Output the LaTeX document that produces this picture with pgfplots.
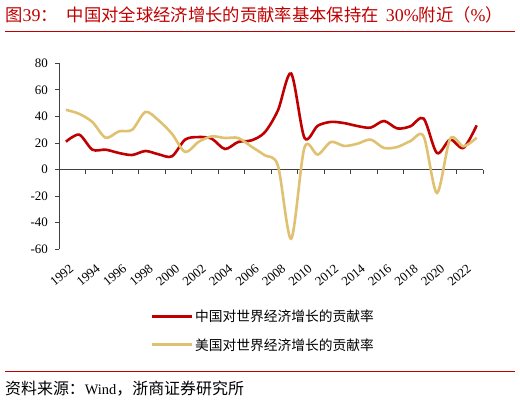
\documentclass[border=0pt]{standalone}
\usepackage{fontspec}
\setmainfont{Liberation Serif}
\newfontfamily\cjk{Noto Sans CJK SC}
\usepackage{pgfplots}
\pgfplotsset{compat=1.18}
\usepackage{pgfplotstable}

\definecolor{zsred}{RGB}{192,0,0}
\definecolor{zsgold}{RGB}{223,193,113}
\definecolor{axgray}{RGB}{64,64,64}

% contribution to world growth (%)
\pgfplotstableread{
year china us
1992 21.0 45.0
1993 26.3 42.0
1994 15.0 35.8
1995 15.0 24.0
1996 12.5 28.8
1997 11.0 30.0
1998 14.0 43.4
1999 11.5 37.0
2000 10.0 27.0
2001 22.6 13.3
2002 24.5 20.8
2003 23.3 25.0
2004 15.5 23.8
2005 20.8 23.8
2006 22.0 17.3
2007 28.0 10.8
2008 44.6 3.0
2009 72.3 -52.0
2010 24.0 16.6
2011 33.0 11.3
2012 35.9 20.8
2013 35.0 17.8
2014 32.8 19.5
2015 31.6 22.6
2016 36.6 16.3
2017 31.0 17.0
2018 32.6 21.5
2019 38.4 25.0
2020 12.5 -17.6
2021 22.6 23.3
2022 16.3 17.5
2023 33.3 24.0
}\contrib

\newcommand\tcjk{\cjk\fontsize{17.4}{18}\selectfont}
\newcommand\tlat{\rmfamily\fontsize{18}{18}\selectfont}

\begin{document}
\begin{tikzpicture}[x=1bp,y=1bp]
  \useasboundingbox (0,0) rectangle (520,-402);

  % title
  \node[anchor=west, inner sep=0pt, text=zsred] at (5,-15)
    {\tcjk 图\tlat 39\tcjk ：\hspace{9bp}中国对全球经济增长的贡献率基本保持在\hspace{7bp}\tlat 30\%\tcjk 附近（\tlat\%\tcjk ）};
  \draw[zsred, line width=1bp] (5,-31) -- (515,-31);

  % zero line with its tick marks
  \begin{axis}[at={(59.3bp,-249.3bp)}, anchor=south west, scale only axis,
      width=424bp, height=186bp,
      xmin=1991.5, xmax=2023.5, ymin=-60, ymax=80,
      axis x line=middle, axis y line=none,
      axis line style={-, axgray, line width=0.8bp},
      xtick={1991.5,1993.5,...,2023.5}, xticklabels={},
      tick align=outside, major tick length=4bp,
      x tick style={axgray, line width=0.8bp}]
  \end{axis}

  \begin{axis}[at={(59.3bp,-249.3bp)}, anchor=south west, scale only axis,
      width=424bp, height=186bp,
      xmin=1991.5, xmax=2023.5, ymin=-60, ymax=80,
      axis y line*=left, axis x line*=bottom,
      x axis line style={draw=none},
      y axis line style={axgray, line width=0.8bp},
      ytick={-60,-40,...,80},
      xtick={1992,1994,...,2022},
      x tick style={draw=none},
      y tick style={axgray, line width=0.8bp},
      tick align=outside, major tick length=4bp,
      /pgf/number format/1000 sep={},
      /pgf/number format/assume math mode=true,
      tick label style={font=\fontsize{13}{13}\selectfont, text=black},
      yticklabel style={xshift=-4bp},
      xticklabel style={xshift=3bp, yshift=-10bp, rotate=40, anchor=north east, inner sep=0bp},
      legend style={at={(0.214,-0.316)}, anchor=north west, draw=none, fill=none,
        font=\cjk\fontsize{13.8}{13.8}\selectfont, row sep=11bp, inner sep=0bp},
      legend cell align=left,
      legend image code/.code={\draw[#1, line width=3bp] (0bp,0bp) -- (40bp,0bp);}]

    \addplot[zsred, line width=2.6bp, smooth] table[x=year, y=china] {\contrib};
    \addlegendentry{中国对世界经济增长的贡献率}
    \addplot[zsgold, line width=2.6bp, smooth] table[x=year, y=us] {\contrib};
    \addlegendentry{美国对世界经济增长的贡献率}
  \end{axis}

  % source
  \draw[zsred, line width=0.8bp] (5,-371) -- (515,-371);
  \node[anchor=west, inner sep=0pt] at (5,-389)
    {\cjk\fontsize{16}{16}\selectfont 资料来源：\rmfamily\fontsize{14.5}{14.5}\selectfont Wind\cjk\fontsize{16}{16}\selectfont ，浙商证券研究所};
\end{tikzpicture}
\end{document}
